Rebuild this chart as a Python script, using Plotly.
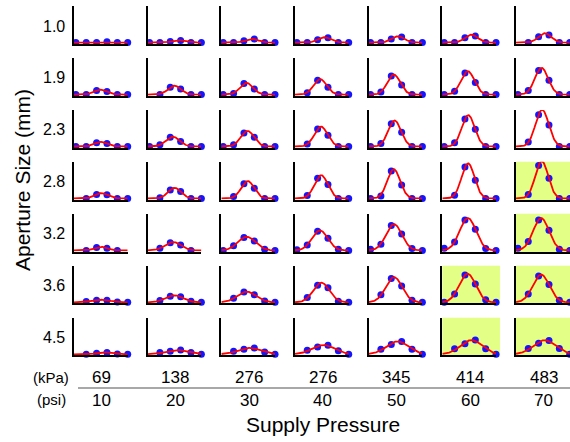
import numpy as np
import plotly.graph_objects as go

# ---------------- data ----------------
apertures = ["1.0", "1.9", "2.3", "2.8", "3.2", "3.6", "4.5"]          # rows (mm)
kpa_labels = ["69", "138", "276", "276", "345", "414", "483"]
psi_labels = ["10", "20", "30", "40", "50", "60", "70"]
positions = [0, 1, 2, 3, 4, 5]
N = None

# normalised flow profile per cell, one list per pressure column
ap_1_0 = [[0, 0, 0, 0.02, 0, 0], [0, 0, 0.03, 0.06, 0, 0], [0, 0, 0.05, 0.10, 0, 0],
          [0, 0, 0.08, 0.13, 0, 0], [0, 0, 0.10, 0.15, 0, 0], [0, 0, 0.13, 0.18, 0, 0],
          [N, 0, 0.16, 0.21, 0, 0]]
ap_1_9 = [[0, 0, 0.11, 0.08, 0, 0], [N, 0, 0.20, 0.15, 0, 0], [0, 0.03, 0.30, 0.15, 0, 0],
          [N, 0.05, 0.39, 0.20, 0, 0], [0, 0.07, 0.51, 0.26, 0, 0], [0, 0.09, 0.59, 0.33, 0, 0],
          [0, 0.11, 0.66, 0.39, 0, 0]]
ap_2_3 = [[0, 0, 0.10, 0.08, 0, 0], [0, 0.05, 0.25, 0.14, 0, 0], [0, 0.05, 0.37, 0.25, 0, 0],
          [N, 0.07, 0.48, 0.31, 0, 0], [0, 0.08, 0.62, 0.39, 0, 0], [0, 0.10, 0.75, 0.47, 0, 0],
          [N, 0.12, 0.87, 0.59, 0, 0]]
ap_2_8 = [[N, 0, 0.11, 0.10, 0, 0], [N, 0.02, 0.23, 0.19, 0, 0], [N, 0.05, 0.40, 0.28, 0, 0],
          [N, 0.08, 0.55, 0.38, 0, 0], [0, 0.07, 0.75, 0.37, 0, 0], [N, 0.09, 0.86, 0.50, 0, 0],
          [N, 0.11, 0.90, 0.55, 0, 0]]
ap_3_2 = [[N, 0, 0.08, 0.06, 0, N], [N, 0.06, 0.21, 0.15, 0, N], [0, 0.13, 0.35, 0.26, 0.03, 0],
          [0.02, 0.15, 0.52, 0.33, 0.03, 0], [0.03, 0.17, 0.68, 0.45, 0.05, 0],
          [0.06, 0.23, 0.83, 0.58, 0.05, 0], [0.06, 0.24, 0.83, 0.55, 0.03, 0]]
ap_3_6 = [[N, 0.02, 0.06, 0.06, 0.01, 0], [N, 0.05, 0.17, 0.15, 0.03, 0], [N, 0.11, 0.28, 0.21, 0.04, 0],
          [N, 0.13, 0.47, 0.40, 0.03, 0], [N, 0.21, 0.65, 0.45, 0.06, 0], [0, 0.23, 0.75, 0.50, 0.07, 0],
          [N, 0.23, 0.72, 0.49, 0.06, 0]]
ap_4_5 = [[N, 0, 0.03, 0.05, 0.01, 0], [N, 0.05, 0.08, 0.12, 0.05, 0], [N, 0.08, 0.14, 0.17, 0.06, 0],
          [N, 0.11, 0.20, 0.25, 0.10, 0], [N, 0.14, 0.27, 0.35, 0.14, 0], [N, 0.15, 0.29, 0.39, 0.15, 0],
          [N, 0.16, 0.30, 0.38, 0.16, 0]]
grid = [ap_1_0, ap_1_9, ap_2_3, ap_2_8, ap_3_2, ap_3_6, ap_4_5]

# highlighted cells (row index, column index)
highlight = [(3, 6), (4, 6), (5, 5), (5, 6), (6, 5), (6, 6)]

# ---------------- layout geometry ----------------
W, H = 570, 442
XR = [-0.18, 5.0]
YR = [-0.03, 1.0]
col_left0, col_step, cell_w = 74.0, 73.67, 53.7
row_top0, row_step, cell_h = 6.0, 51.95, 37.7


def gauss_fit(xs, ys):
    xs = np.asarray(xs, float)
    ys = np.asarray(ys, float)
    best = (np.inf, 0.0, 2.5, 1.0)
    for mu in np.arange(0.0, 5.001, 0.02):
        for s in np.arange(0.62, 2.5, 0.02):
            g = np.exp(-(xs - mu) ** 2 / (2 * s * s))
            den = (g * g).sum()
            if den <= 0:
                continue
            a = max((g * ys).sum() / den, 0.0)
            err = ((a * g - ys) ** 2).sum()
            if err < best[0]:
                best = (err, a, mu, s)
    return best[1:]


fig = go.Figure()
layout_axes = {}
shapes = []
annotations = []
xs_curve = np.linspace(XR[0], XR[1], 120)

for r in range(7):
    for c in range(7):
        k = r * 7 + c + 1
        xa = "x" if k == 1 else f"x{k}"
        ya = "y" if k == 1 else f"y{k}"
        left = col_left0 + c * col_step
        top = row_top0 + r * row_step
        layout_axes["xaxis" + ("" if k == 1 else str(k))] = dict(
            domain=[left / W, (left + cell_w) / W], range=XR, anchor=ya,
            showline=True, linecolor="black", linewidth=1.6, mirror=False,
            showgrid=False, zeroline=False, showticklabels=False, ticks="", fixedrange=True)
        layout_axes["yaxis" + ("" if k == 1 else str(k))] = dict(
            domain=[(H - top - cell_h) / H, (H - top) / H], range=YR, anchor=xa,
            showline=True, linecolor="black", linewidth=1.6, mirror=False,
            showgrid=False, zeroline=False, showticklabels=False, ticks="", fixedrange=True)
        if (r, c) in highlight:
            shapes.append(dict(type="rect", xref=f"{xa} domain", yref=f"{ya} domain",
                               x0=0, x1=1.075, y0=-0.04, y1=1.0, fillcolor="#e4ff85",
                               line_width=0, layer="below"))
        vals = grid[r][c]
        px = [positions[i] for i in range(6) if vals[i] is not None]
        py = [vals[i] for i in range(6) if vals[i] is not None]
        a, mu, s = gauss_fit(px, py)
        fig.add_trace(go.Scatter(x=px, y=py, xaxis=xa, yaxis=ya, mode="markers",
                                 marker=dict(color="#1414ff", size=7), cliponaxis=False,
                                 showlegend=False, hoverinfo="skip"))
        fig.add_trace(go.Scatter(x=xs_curve, y=a * np.exp(-(xs_curve - mu) ** 2 / (2 * s * s)),
                                 xaxis=xa, yaxis=ya, mode="lines",
                                 line=dict(color="#ff0000", width=1.8),
                                 showlegend=False, hoverinfo="skip"))

FONT = "Liberation Sans, Arial, sans-serif"


def label(text, x, y, size, anchor="center", angle=0):
    annotations.append(dict(text=text, x=x / W, y=(H - y) / H, xref="paper", yref="paper",
                            xanchor=anchor, yanchor="middle", showarrow=False, textangle=angle,
                            font=dict(size=size, color="black", family=FONT)))


# row labels
for r, lab in enumerate(apertures):
    label(lab, 67, row_top0 + r * row_step + 20, 16, "right")

# column labels
for c in range(7):
    xc = col_left0 + c * col_step + 27.7
    label(kpa_labels[c], xc, 377, 17)
    label(psi_labels[c], xc, 400, 17)

label("(kPa)", 71, 377, 15, "right")
label("(psi)", 68, 399, 15, "right")
label("Supply Pressure", 323, 424, 21)
label("Aperture Size (mm)", 22, 180, 21, angle=-90)

shapes.append(dict(type="line", xref="paper", yref="paper", x0=78 / W, x1=1.0,
                   y0=(H - 388) / H, y1=(H - 388) / H, line=dict(color="#a8a8a8", width=2)))

fig.update_layout(width=W, height=H, margin=dict(l=0, r=0, t=0, b=0),
                  paper_bgcolor="white", plot_bgcolor="rgba(0,0,0,0)",
                  shapes=shapes, annotations=annotations, **layout_axes)

fig.write_html("out.html", config={"displayModeBar": False},
               post_script="document.body.style.margin='0';document.body.style.padding='0';")
